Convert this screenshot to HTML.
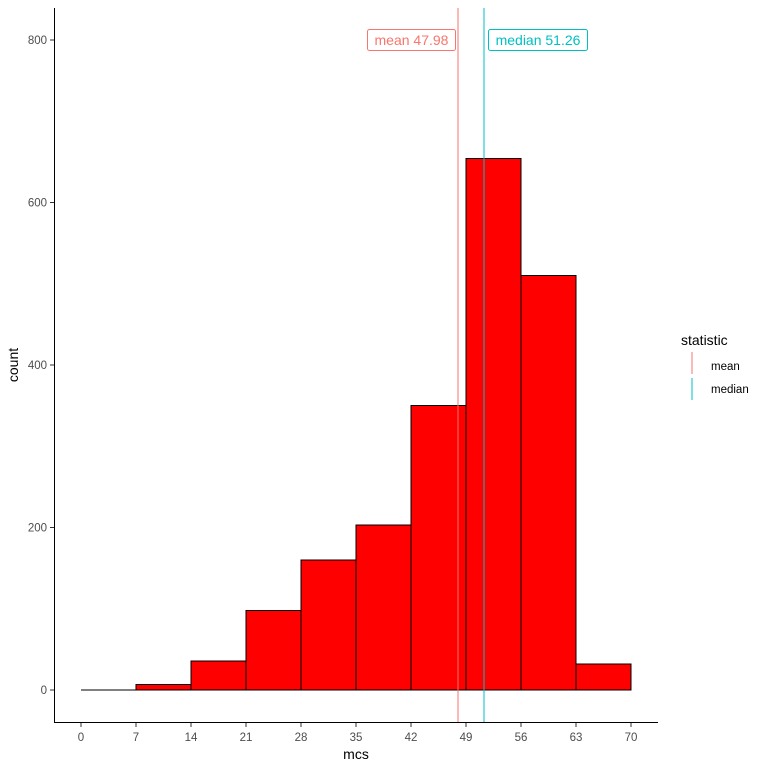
<!DOCTYPE html><html><head><style>body{margin:0;background:#fff}svg{font-family:"Liberation Sans",Arial,sans-serif}</style></head><body>
<svg width="768" height="768" viewBox="0 0 768 768" xmlns="http://www.w3.org/2000/svg">
<rect width="768" height="768" fill="#fff"/>
<g stroke="#000" stroke-width="1" fill="#ff0000">
<line x1="81" y1="690" x2="136" y2="690"/>
<rect x="136" y="684.5" width="55" height="5.5"/>
<rect x="191" y="661" width="55" height="29"/>
<rect x="246" y="610.5" width="55" height="79.5"/>
<rect x="301" y="560" width="55" height="130"/>
<rect x="356" y="525" width="55" height="165"/>
<rect x="411" y="405.5" width="55" height="284.5"/>
<rect x="466" y="158.5" width="55" height="531.5"/>
<rect x="521" y="275.5" width="55" height="414.5"/>
<rect x="576" y="664" width="55" height="26"/>
</g>
<line x1="458" y1="8" x2="458" y2="722" stroke="#F8766D" stroke-width="1"/>
<line x1="484" y1="8" x2="484" y2="722" stroke="#00BFC4" stroke-width="1"/>
<rect x="367.5" y="29.5" width="88" height="21" rx="2" fill="#fff" stroke="#F8766D"/>
<text x="411.5" y="45" text-anchor="middle" font-size="14" fill="#F8766D">mean 47.98</text>
<rect x="488.5" y="29.5" width="99" height="21" rx="2" fill="#fff" stroke="#00BFC4"/>
<text x="538" y="45" text-anchor="middle" font-size="14" fill="#00BFC4">median 51.26</text>
<g stroke="#000"><line x1="54.5" y1="8" x2="54.5" y2="722.5"/><line x1="54" y1="722.5" x2="658" y2="722.5"/></g>
<g stroke="#333">
<line x1="50" y1="690" x2="54" y2="690"/><line x1="50" y1="527.5" x2="54" y2="527.5"/><line x1="50" y1="365" x2="54" y2="365"/><line x1="50" y1="202.5" x2="54" y2="202.5"/><line x1="50" y1="40" x2="54" y2="40"/>
</g>
<g font-size="11.5" fill="#4d4d4d" text-anchor="end">
<text x="47" y="694">0</text><text x="47" y="531.5">200</text><text x="47" y="369">400</text><text x="47" y="206.5">600</text><text x="47" y="44">800</text>
</g>
<g stroke="#333">
<line x1="81" y1="723" x2="81" y2="727"/><line x1="136" y1="723" x2="136" y2="727"/><line x1="191" y1="723" x2="191" y2="727"/><line x1="246" y1="723" x2="246" y2="727"/><line x1="301" y1="723" x2="301" y2="727"/><line x1="356" y1="723" x2="356" y2="727"/><line x1="411" y1="723" x2="411" y2="727"/><line x1="466" y1="723" x2="466" y2="727"/><line x1="521" y1="723" x2="521" y2="727"/><line x1="576" y1="723" x2="576" y2="727"/><line x1="631" y1="723" x2="631" y2="727"/>
</g>
<g font-size="11.5" fill="#4d4d4d" text-anchor="middle">
<text x="81" y="741">0</text><text x="136" y="741">7</text><text x="191" y="741">14</text><text x="246" y="741">21</text><text x="301" y="741">28</text><text x="356" y="741">35</text><text x="411" y="741">42</text><text x="466" y="741">49</text><text x="521" y="741">56</text><text x="576" y="741">63</text><text x="631" y="741">70</text>
</g>
<text x="356" y="759" text-anchor="middle" font-size="14" fill="#000">mcs</text>
<text transform="translate(18,365) rotate(-90)" text-anchor="middle" font-size="14" fill="#000">count</text>
<text x="681" y="345" font-size="14" fill="#000">statistic</text>
<line x1="692" y1="352" x2="692" y2="374" stroke="#F8766D"/>
<line x1="692" y1="378" x2="692" y2="400" stroke="#00BFC4"/>
<text x="711" y="370" font-size="11.5" fill="#000">mean</text>
<text x="711" y="393" font-size="11.5" fill="#000">median</text>
</svg>
</body></html>
